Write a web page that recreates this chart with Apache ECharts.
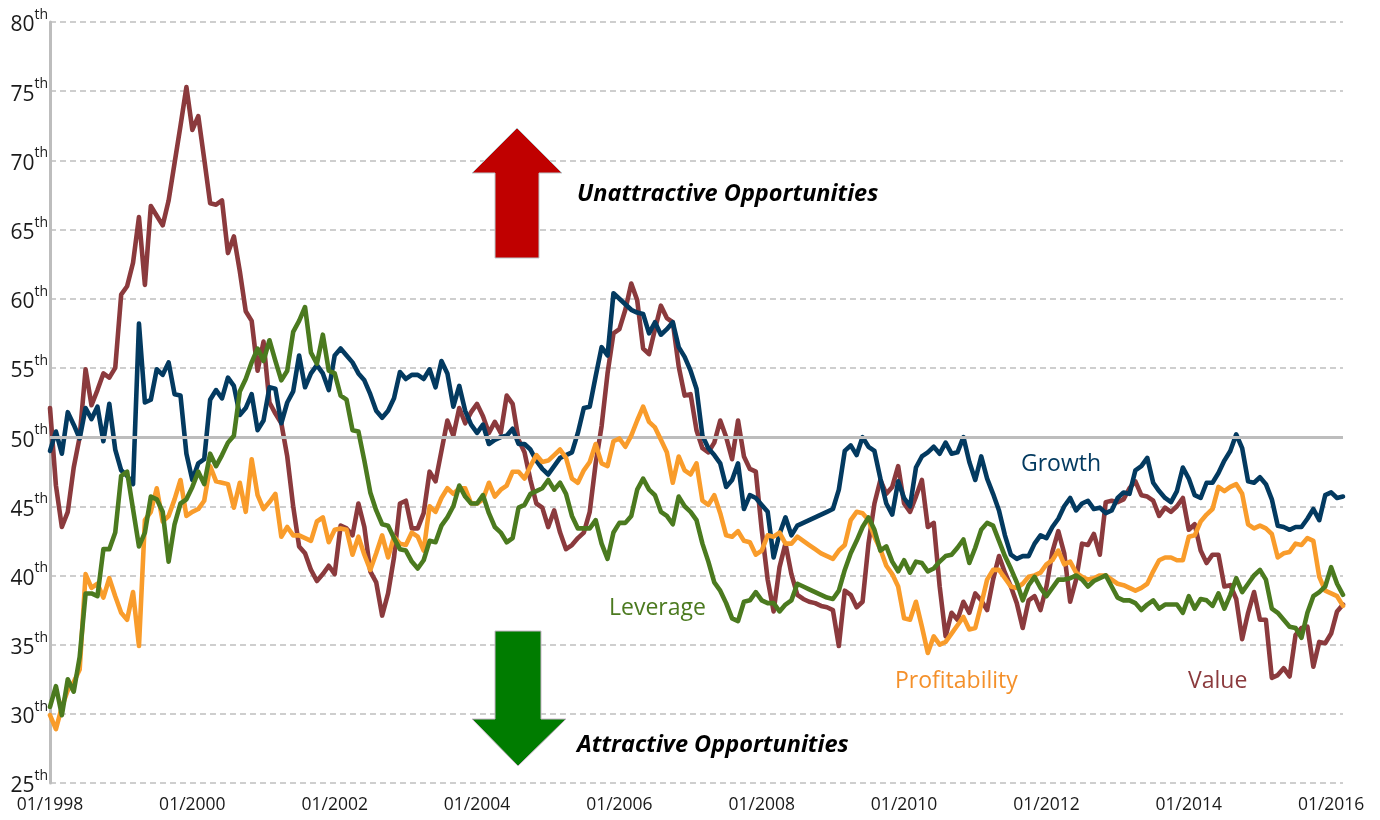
<!DOCTYPE html>
<html>
<head>
<meta charset="utf-8">
<script src="https://cdn.jsdelivr.net/npm/echarts@6/dist/echarts.min.js"></script>
<style>
html,body{margin:0;padding:0;background:#fff;}
#chart{width:1380px;height:820px;}
</style>
</head>
<body>
<div id="chart"></div>
<script>
// Monthly categories 01/1998 .. 03/2016
const startYear = 1998;
const monthCount = 219;
const months = [];
for (let i = 0; i < monthCount; i++) {
  const y = startYear + Math.floor(i / 12);
  const m = (i % 12) + 1;
  months.push((m < 10 ? '0' : '') + m + '/' + y);
}

const growth = [
49.0,50.4,48.8,51.8,50.9,49.9,52.1,51.3,52.2,49.7,52.4,49.1,47.6,47.2,46.6,58.2,52.5,52.7,54.9,54.5,
55.4,53.1,53.0,48.8,46.9,48.1,48.4,52.7,53.4,52.8,54.3,53.7,51.6,52.1,53.1,50.5,51.2,53.6,53.5,51.0,
52.5,53.3,55.9,53.6,54.6,55.2,54.6,53.4,55.9,56.4,55.9,55.4,54.6,54.1,53.1,51.9,51.4,51.9,52.8,54.7,
54.2,54.5,54.5,54.2,54.9,53.6,55.5,54.6,52.2,53.7,51.9,50.9,50.3,50.9,49.5,49.8,50.0,50.1,50.6,49.5,
49.5,49.1,48.3,47.7,47.3,47.9,48.5,48.7,48.9,50.3,52.1,52.2,54.4,56.5,55.9,60.4,60.0,59.6,59.2,59.0,
58.9,57.5,58.3,57.4,57.8,58.3,56.5,55.8,54.8,53.5,50.1,49.2,48.7,48.1,46.4,46.9,48.1,44.8,45.8,45.6,
45.1,44.6,41.3,43.0,44.2,42.9,43.6,43.8,44.0,44.2,44.4,44.6,44.8,46.2,49.0,49.4,48.7,50.0,49.3,49.0,
47.0,45.2,44.4,46.8,45.6,45.0,47.8,48.6,48.9,49.3,48.8,49.6,48.8,48.9,50.0,48.2,46.9,48.6,47.0,45.9,
44.7,42.9,41.5,41.2,41.4,41.4,42.3,42.9,42.7,43.5,44.1,45.0,45.6,44.7,45.2,45.4,44.8,44.9,44.5,44.7,
45.6,46.0,45.9,47.6,47.9,48.5,46.7,46.1,45.6,45.3,46.1,47.8,47.0,45.8,45.6,46.7,46.7,47.4,48.3,49.0,
50.2,49.2,46.8,46.7,47.1,46.6,45.5,43.6,43.5,43.3,43.5,43.5,44.1,44.8,44.0,45.8,46.0,45.6,45.7
];

const value = [
52.1,46.5,43.5,44.6,47.8,50.0,54.9,52.3,53.4,54.6,54.3,55.0,60.3,60.9,62.6,65.9,61.0,66.7,66.0,65.3,
67.1,69.8,72.5,75.3,72.2,73.2,70.1,66.9,66.8,67.1,63.3,64.5,62.0,59.1,58.4,54.8,56.9,52.5,51.7,51.0,
48.6,45.0,42.1,41.6,40.4,39.6,40.1,40.7,40.1,43.6,43.4,42.9,45.2,43.5,40.3,39.5,37.1,38.7,41.3,45.2,
45.4,43.4,43.4,44.5,47.5,46.8,49.0,51.2,50.1,52.1,51.0,51.8,52.4,51.5,50.3,51.1,50.3,53.0,52.4,49.8,
48.9,46.9,45.2,44.9,43.5,44.7,43.1,41.9,42.2,42.7,43.1,44.6,48.1,50.8,54.6,57.5,57.8,59.2,61.1,59.9,
56.4,56.0,57.8,59.5,58.6,58.3,55.1,53.0,53.1,50.5,49.2,48.9,49.6,51.2,50.0,48.4,51.2,48.6,47.7,47.5,
43.3,39.7,37.4,40.6,42.3,40.1,38.6,38.3,38.1,38.0,37.8,37.7,37.5,34.9,38.9,38.6,37.7,38.1,42.3,45.2,
46.9,45.9,46.4,47.9,45.2,44.6,45.7,46.9,43.5,43.8,39.2,35.6,37.3,36.8,38.1,37.3,38.7,38.2,37.5,39.7,
41.4,40.2,39.2,38.0,36.2,38.2,38.5,37.5,39.2,41.7,43.2,41.6,38.1,39.7,42.3,42.2,43.0,41.5,45.3,45.4,
45.3,45.5,46.3,46.8,45.8,45.7,45.4,44.3,44.9,44.6,45.0,45.6,43.3,43.7,41.8,40.9,41.5,41.5,39.2,39.3,
38.3,35.4,37.3,38.8,36.8,36.8,32.6,32.8,33.3,32.7,35.7,36.2,36.3,33.4,35.2,35.1,35.8,37.4,37.9
];

const leverage = [
30.5,32.0,29.9,32.5,31.6,34.1,38.7,38.7,38.5,41.9,41.9,43.1,47.2,47.5,44.8,42.1,43.1,45.7,45.5,44.6,
41.0,43.7,45.2,45.5,46.4,47.5,46.6,48.8,47.9,48.7,49.6,50.1,53.3,54.2,55.4,56.4,55.5,57.0,55.5,54.1,
54.8,57.6,58.4,59.4,56.1,55.3,57.4,54.8,54.6,53.0,52.7,50.5,50.4,48.3,46.0,44.7,43.7,43.6,42.7,41.9,
41.8,41.0,40.5,41.1,42.5,42.4,43.6,44.2,45.0,46.5,45.7,45.2,45.2,45.8,44.5,43.5,43.1,42.4,42.7,44.9,
45.1,45.9,46.1,46.3,46.9,46.2,46.7,45.9,44.3,43.4,43.4,43.4,44.0,42.3,41.2,43.1,43.8,43.8,44.3,46.2,
47.0,46.2,45.8,44.6,44.3,43.7,45.7,45.0,44.6,44.0,42.3,41.0,39.5,38.9,38.0,36.9,36.7,38.1,38.2,38.8,
38.2,38.0,38.0,37.4,37.9,38.2,39.4,39.2,39.0,38.8,38.6,38.4,38.3,38.9,40.4,41.6,42.5,43.5,44.2,43.3,
41.8,42.1,41.0,40.3,41.1,40.2,41.0,40.9,40.3,40.5,41.0,41.4,41.5,42.0,42.6,40.9,42.0,43.3,43.8,43.6,
42.5,41.4,40.5,39.5,38.2,39.3,39.9,39.1,38.5,39.1,39.7,39.7,39.8,40.0,39.7,39.2,39.6,39.8,40.0,39.2,
38.4,38.2,38.2,38.0,37.5,37.9,38.2,37.6,37.9,37.9,37.9,37.3,38.5,37.6,38.3,38.2,37.8,38.7,37.6,38.6,
39.8,38.8,39.4,40.0,40.4,39.7,37.6,37.3,36.8,36.3,36.2,35.5,37.3,38.5,38.8,39.2,40.6,39.4,38.6
];

const profitability = [
29.9,28.9,30.5,31.7,32.3,33.2,40.1,39.1,39.4,38.4,39.8,38.5,37.3,36.8,38.8,34.9,44.0,44.6,46.3,43.9,
44.3,45.5,46.9,44.3,44.6,44.8,45.4,47.9,46.8,46.7,46.6,44.9,46.7,44.6,48.4,45.8,44.8,45.3,45.9,42.8,
43.5,42.9,42.9,42.7,42.5,43.9,44.2,42.4,43.3,43.4,43.3,41.5,42.8,41.5,40.4,41.6,42.9,41.3,42.8,42.3,
42.2,43.1,42.8,41.8,45.0,44.6,45.6,46.3,45.9,46.3,46.3,45.2,45.2,45.5,46.7,45.7,46.2,46.5,47.5,47.5,
47.0,47.9,48.7,48.2,48.3,48.7,49.1,48.5,47.0,46.7,47.6,48.2,49.5,48.1,47.9,49.7,49.9,49.3,50.1,51.2,
52.2,51.1,50.7,49.8,48.9,46.7,48.6,47.6,47.3,48.1,45.4,45.1,45.8,44.5,42.9,42.8,43.2,42.5,42.4,41.5,
41.8,42.9,42.8,43.1,42.3,42.3,42.8,42.5,42.2,41.9,41.6,41.4,41.2,41.8,42.2,44.0,44.6,44.5,44.0,42.8,
41.9,40.7,40.1,39.2,36.9,36.8,38.1,36.3,34.4,35.6,35.0,35.2,35.8,36.4,37.0,36.1,36.2,37.9,39.7,40.4,
40.4,39.8,39.2,39.1,39.4,39.9,40.0,40.2,40.8,41.1,41.8,40.8,41.0,40.2,39.9,39.7,39.8,40.0,40.0,39.7,
39.4,39.3,39.1,38.9,39.1,39.4,40.3,41.1,41.3,41.3,41.1,41.1,42.8,42.9,43.9,44.4,44.8,46.4,46.1,46.4,
46.6,45.9,43.7,43.4,43.6,43.4,43.0,41.3,41.6,41.7,42.3,42.2,42.7,42.5,39.9,38.9,38.7,38.5,37.8
];

const yMin = 25, yMax = 80, yStep = 5;
const refLevel = 50;
const labelEvery = 24;

const colors = {
  growth: '#033a60',
  value: '#8b3a3d',
  leverage: '#4b7a1f',
  profitability: '#f99c2b'
};

const chart = echarts.init(document.getElementById('chart'), null, {renderer: 'canvas'});
const FONT = '"Open Sans", "Noto Sans", sans-serif';

function lineSeries(name, data, color, z) {
  return {
    name: name, type: 'line', data: data, showSymbol: false, symbol: 'none',
    z: z, animation: false,
    lineStyle: {color: color, width: 4.6, cap: 'round', join: 'round'},
    itemStyle: {color: color}
  };
}

const option = {
  animation: false,
  backgroundColor: '#ffffff',
  grid: {left: 50, right: 37, top: 22, bottom: 37, containLabel: false},
  xAxis: {
    type: 'category', data: months, boundaryGap: false,
    axisLine: {show: false},
    axisTick: {show: false},
    splitLine: {show: false},
    axisLabel: {
      interval: function (i) { return i % labelEvery === 0; },
      color: '#1a1a1a', fontSize: 17.5, fontFamily: FONT, margin: 13,
      hideOverlap: false
    }
  },
  yAxis: {
    type: 'value', min: yMin, max: yMax, interval: yStep,
    axisLine: {show: true, lineStyle: {color: '#bdbdbd', width: 3}},
    axisTick: {show: false},
    splitLine: {show: true, lineStyle: {color: '#bfbfbf', width: 1.5, type: [6, 4]}},
    axisLabel: {
      margin: 2,
      fontSize: 21, fontFamily: FONT, color: '#1a1a1a',
      formatter: function (v) { return '{n|' + v + '}{s|th}'; },
      rich: {
        n: {fontSize: 21, fontFamily: FONT, color: '#1a1a1a', lineHeight: 28, verticalAlign: 'bottom'},
        s: {fontSize: 14, fontFamily: FONT, color: '#1a1a1a', lineHeight: 28, verticalAlign: 'top', padding: [0, 0, 12, 0]}
      }
    }
  },
  series: [
    {
      name: 'ref', type: 'line', data: [], z: 1, silent: true,
      markLine: {
        silent: true, symbol: 'none', animation: false,
        label: {show: false},
        lineStyle: {color: '#bdbdbd', type: 'solid', width: 3},
        data: [{yAxis: refLevel}]
      }
    },
    lineSeries('Value', value, colors.value, 3),
    lineSeries('Growth', growth, colors.growth, 4),
    lineSeries('Profitability', profitability, colors.profitability, 5),
    lineSeries('Leverage', leverage, colors.leverage, 6)
  ],
  graphic: [
    {
      type: 'polygon', z: 10,
      shape: {points: [[517, 128], [562, 173], [539, 173], [539, 258], [495, 258], [495, 173], [472, 173]]},
      style: {fill: '#c00000', stroke: '#b9c9cc', lineWidth: 1}
    },
    {
      type: 'polygon', z: 10,
      shape: {points: [[495, 631], [541, 631], [541, 719], [566, 719], [518, 766], [472, 719], [495, 719]]},
      style: {fill: '#007c00', stroke: '#c8b4c8', lineWidth: 1}
    },
    {
      type: 'text', z: 10, left: 577, top: 183,
      style: {text: 'Unattractive Opportunities', fill: '#000', font: 'italic bold 23.5px ' + FONT}
    },
    {
      type: 'text', z: 10, left: 577, top: 734,
      style: {text: 'Attractive Opportunities', fill: '#000', font: 'italic bold 23.5px ' + FONT}
    },
    {
      type: 'text', z: 10, left: 1021, top: 453,
      style: {text: 'Growth', fill: colors.growth, font: '23px ' + FONT}
    },
    {
      type: 'text', z: 10, left: 609, top: 597,
      style: {text: 'Leverage', fill: colors.leverage, font: '23px ' + FONT}
    },
    {
      type: 'text', z: 10, left: 895, top: 670,
      style: {text: 'Profitability', fill: '#f4902a', font: '23px ' + FONT}
    },
    {
      type: 'text', z: 10, left: 1188, top: 670,
      style: {text: 'Value', fill: colors.value, font: '23px ' + FONT}
    }
  ]
};

chart.setOption(option);
</script>
</body>
</html>
